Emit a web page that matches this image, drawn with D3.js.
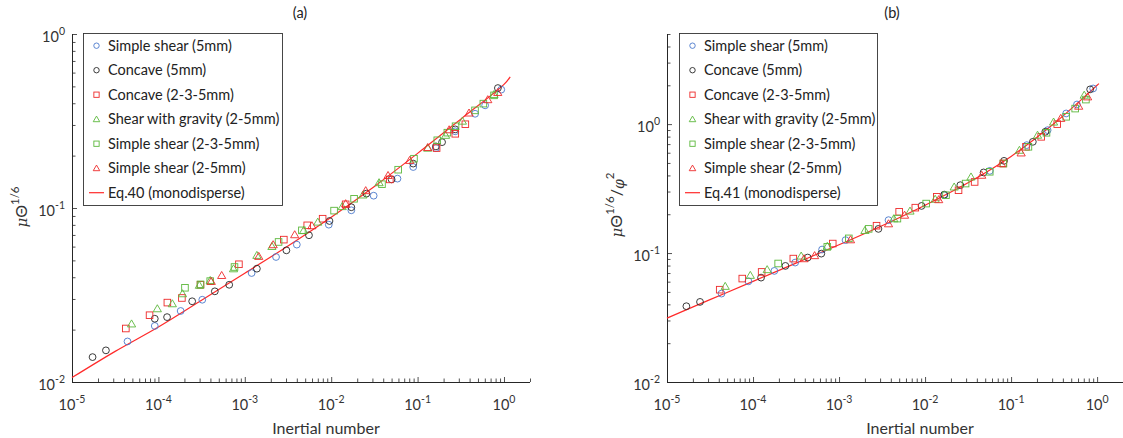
<!DOCTYPE html>
<html><head><meta charset="utf-8">
<script src="https://cdn.jsdelivr.net/npm/d3@7"></script>
<style>
body{margin:0;background:#fff;}
svg{display:block;font-family:Lato,"Noto Sans",sans-serif;}
</style></head><body>
<svg id="c" width="1123" height="438"></svg>
<script>
// ---------- data ----------
const seriesNames = ["Simple shear (5mm)","Concave (5mm)","Concave (2-3-5mm)","Shear with gravity (2-5mm)","Simple shear (2-3-5mm)","Simple shear (2-5mm)"];
const seriesColors = ["#4a78cc","#262626","#ee2a2a","#5cb83c","#5cb83c","#ee2a2a"];
const seriesShapes = ["circle","circle","square","triangle","square","triangle"];
const xTickValues = [1e-5,1e-4,1e-3,1e-2,1e-1,1];
const xTickExps = ["-5","-4","-3","-2","-1","0"];
const yTickValues = [1e-2,1e-1,1];
const yTickExps = ["-2","-1","0"];
const legendLineA = "Eq.40 (monodisperse)";
const legendLineB = "Eq.41 (monodisperse)";

// panel (a)
const aSimple5x = [4.39e-5,9.08e-5,1.81e-4,3.22e-4,1.20e-3,2.30e-3,4.00e-3,9.38e-3,0.0171,0.031,0.0585,0.089,0.163,0.273,0.463,0.605,0.93];
const aSimple5y = [0.0171,0.0210,0.0256,0.0297,0.0423,0.0523,0.0616,0.0802,0.097,0.1177,0.1475,0.172,0.221,0.276,0.348,0.389,0.479];
const aConc5x = [1.73e-5,2.47e-5,9.08e-5,1.26e-4,2.46e-4,4.5e-4,6.6e-4,1.38e-3,3.03e-3,5.53e-3,9.55e-3,0.0171,0.0256,0.050,0.089,0.163,0.192,0.273,0.85];
const aConc5y = [0.0139,0.0152,0.0231,0.0236,0.0291,0.0332,0.0362,0.0448,0.0571,0.0697,0.0842,0.101,0.121,0.146,0.180,0.226,0.239,0.283,0.489];
const aConc235x = [4.2e-5,7.9e-5,1.27e-4,1.87e-4,3.07e-4,8.55e-4,2.83e-3,5.28e-3,7.96e-3,0.0147,0.0477,0.166,0.273,0.357];
const aConc235y = [0.0203,0.0242,0.0286,0.0304,0.0362,0.0475,0.0658,0.0795,0.0868,0.105,0.146,0.221,0.267,0.303];
const aGrav25x = [4.89e-5,9.72e-5,1.45e-4,1.90e-4,2.98e-4,3.98e-4,7.4e-4,1.38e-3,2.06e-3,4.8e-3,7.0e-3,0.0134,0.0233,0.0358,0.131,0.211,0.33,0.767];
const aGrav25y = [0.0216,0.0264,0.0282,0.0322,0.036,0.0384,0.0448,0.0535,0.0602,0.0744,0.0831,0.102,0.119,0.140,0.221,0.262,0.316,0.45];
const aSimple235x = [2.03e-4,3.07e-4,3.98e-4,7.6e-4,2.46e-3,4.58e-3,0.0108,0.0184,0.0387,0.0596,0.0908,0.169,0.221,0.275,0.462,0.577,0.767];
const aSimple235y = [0.0348,0.0364,0.038,0.0458,0.0638,0.0744,0.0966,0.113,0.137,0.166,0.192,0.245,0.271,0.295,0.364,0.398,0.444];
const aSimple25x = [4.09e-4,5.4e-4,1.45e-3,2.13e-3,3.78e-3,5.98e-3,0.0147,0.0251,0.0455,0.081,0.131,0.232,0.394,0.649,0.847];
const aSimple25y = [0.0379,0.041,0.0528,0.0616,0.0703,0.0792,0.106,0.126,0.154,0.188,0.223,0.282,0.352,0.42,0.462];
const aCurveX = [1e-5,3.16e-5,1e-4,3.16e-4,1e-3,3.16e-3,1e-2,3.16e-2,0.1,0.316,1,1.18];
const aCurveY = [0.0106,0.0150,0.0207,0.0295,0.0422,0.0605,0.0885,0.133,0.206,0.324,0.513,0.567];

// panel (b)
const bSimple5x = [4.3e-5,8.85e-5,1.77e-4,3.09e-4,6.35e-4,1.19e-3,3.76e-3,0.0167,0.0565,0.152,0.266,0.437,0.583,0.9];
const bSimple5y = [0.0485,0.0604,0.0727,0.0844,0.1065,0.126,0.18,0.281,0.434,0.687,0.898,1.21,1.42,1.89];
const bConc5x = [1.68e-5,2.42e-5,1.24e-4,2.38e-4,4.32e-4,6.22e-4,2.87e-3,9.1e-3,0.0167,0.0257,0.0479,0.0828,0.179,0.25,0.83];
const bConc5y = [0.0387,0.0418,0.0645,0.0795,0.0923,0.099,0.154,0.232,0.284,0.336,0.422,0.519,0.729,0.872,1.86];
const bConc235x = [4.1e-5,7.5e-5,1.26e-4,2.94e-4,8.45e-4,2.73e-3,5.0e-3,7.7e-3,0.0137,0.0245,0.0377,0.0813,0.149,0.224,0.344];
const bConc235y = [0.052,0.0634,0.0714,0.0906,0.1185,0.163,0.209,0.225,0.273,0.307,0.356,0.495,0.667,0.797,1.0];
const bGrav25x = [4.75e-5,9.3e-5,1.46e-4,3.63e-4,7.3e-4,2.0e-3,4.33e-3,6.68e-3,0.0131,0.0218,0.0342,0.125,0.203,0.312,0.708];
const bGrav25y = [0.0553,0.0673,0.0745,0.095,0.113,0.150,0.185,0.212,0.262,0.326,0.390,0.628,0.822,1.04,1.68];
const bSimple235x = [1.96e-4,7.3e-4,1.3e-3,2.21e-3,4.77e-3,0.0103,0.0175,0.0296,0.0565,0.0813,0.159,0.258,0.437,0.556,0.741];
const bSimple235y = [0.083,0.1117,0.130,0.154,0.185,0.242,0.281,0.346,0.427,0.495,0.667,0.857,1.14,1.32,1.55];
const bSimple25x = [3.92e-4,5.2e-4,1.36e-3,3.76e-3,5.78e-3,0.0144,0.0456,0.0774,0.131,0.378,0.611,0.776];
const bSimple25y = [0.0906,0.0957,0.127,0.169,0.197,0.260,0.402,0.495,0.599,1.11,1.38,1.63];
const bCurveX = [1e-5,3.16e-5,1e-4,3.16e-4,1e-3,3.16e-3,1e-2,3.16e-2,0.1,0.316,1,1.05];
const bCurveY = [0.0313,0.0435,0.0603,0.0836,0.116,0.163,0.235,0.351,0.562,1.01,2.0,2.06];

// ---------- drawing ----------
const svg = d3.select("#c");
const axisColor = "#262626";
const lineRed = "#ff2a2a";

function marker(g, shape, x, y, color, s) {
  if (shape === "circle") {
    g.append("circle").attr("cx", x).attr("cy", y).attr("r", 3.4*s)
      .attr("fill","none").attr("stroke",color).attr("stroke-width",0.9);
  } else if (shape === "square") {
    const h = 3.3*s;
    g.append("rect").attr("x", x-h).attr("y", y-h).attr("width", 2*h).attr("height", 2*h)
      .attr("fill","none").attr("stroke",color).attr("stroke-width",0.9);
  } else {
    const h = 3.9*s;
    g.append("path").attr("d", `M${x},${y-h}L${x+h*1.05},${y+h*0.8}L${x-h*1.05},${y+h*0.8}Z`)
      .attr("fill","none").attr("stroke",color).attr("stroke-width",0.9);
  }
}

function panel(cfg) {
  const x = d3.scaleLog().domain([1e-5, 2]).range([cfg.left, cfg.right]);
  const y = d3.scaleLog().domain(cfg.yDomain).range([cfg.bottom, cfg.top]);
  const g = svg.append("g");

  const xMinor = [];
  for (let e = -5; e <= 0; e++) for (let m = 2; m <= 9; m++) { const v = m*Math.pow(10,e); if (v <= 2) xMinor.push(v); }
  const yMinor = [];
  for (let e = -2; e <= 0; e++) for (let m = 2; m <= 9; m++) { const v = m*Math.pow(10,e); if (v <= cfg.yDomain[1]) yMinor.push(v); }

  const gx = g.append("g").attr("transform", `translate(0,${cfg.bottom})`);
  gx.call(d3.axisBottom(x).tickValues(xMinor).tickSize(-3.5).tickFormat(""));
  const gx2 = g.append("g").attr("transform", `translate(0,${cfg.bottom})`);
  gx2.call(d3.axisBottom(x).tickValues(xTickValues).tickSize(-5).tickFormat(""));
  const gy = g.append("g").attr("transform", `translate(${cfg.left},0)`);
  gy.call(d3.axisLeft(y).tickValues(yMinor).tickSize(-3.5).tickFormat(""));
  const gy2 = g.append("g").attr("transform", `translate(${cfg.left},0)`);
  gy2.call(d3.axisLeft(y).tickValues(yTickValues).tickSize(-5).tickFormat(""));
  g.selectAll(".domain").attr("stroke", axisColor).attr("stroke-width", 1);
  g.selectAll(".tick line").attr("stroke", axisColor).attr("stroke-width", 0.8);
  gx.select(".domain").attr("d", `M${cfg.left},0.5H${cfg.right}`);
  gx2.select(".domain").remove();
  gy.select(".domain").attr("d", `M0.5,${cfg.top}V${cfg.bottom}`);
  gy2.select(".domain").remove();

  xTickValues.forEach((v, i) => {
    const t = g.append("text").attr("x", x(v)).attr("y", cfg.bottom + 28)
      .attr("text-anchor","middle").attr("fill","#333").attr("font-size",14.5);
    t.append("tspan").text("10");
    t.append("tspan").attr("dy",-7).attr("font-size",10.5).text(xTickExps[i]);
  });
  yTickValues.forEach((v, i) => {
    const t = g.append("text").attr("x", cfg.left - 7).attr("y", y(v) + 8)
      .attr("text-anchor","end").attr("fill","#333").attr("font-size",14.5);
    t.append("tspan").text("10");
    t.append("tspan").attr("dy",-7).attr("font-size",10.5).text(yTickExps[i]);
  });

  g.append("text").attr("x", cfg.titleX).attr("y", 18).attr("text-anchor","middle")
    .attr("font-size",14.5).attr("fill","#222").text(cfg.title);
  g.append("text").attr("x", cfg.xlabX).attr("y", 434).attr("text-anchor","middle")
    .attr("font-size",16).attr("fill","#333").text("Inertial number");
  const yl = g.append("text").attr("transform", `translate(${cfg.ylabX},${cfg.ylabY}) rotate(-90)`)
    .attr("text-anchor","middle").attr("font-size",16).attr("fill","#333");
  yl.append("tspan").attr("font-style","italic").attr("font-family","'DejaVu Serif',serif").attr("font-size",15).text("μ");
  yl.append("tspan").text("Θ");
  yl.append("tspan").attr("dy",-8).attr("font-size",11.5).text("1/6");
  if (cfg.phi) {
    yl.append("tspan").attr("dy",8).text("/");
    yl.append("tspan").attr("dy",2).attr("font-style","italic").attr("font-family","'DejaVu Serif',serif").attr("font-size",14).text("φ");
    yl.append("tspan").attr("dy",-10).attr("font-size",11.5).text("2");
  }

  const pts = cfg.curveX.map((v,i)=>[v, cfg.curveY[i]]);
  g.append("path").datum(pts)
    .attr("d", d3.line().x(d=>x(d[0])).y(d=>y(d[1])).curve(d3.curveCatmullRom))
    .attr("fill","none").attr("stroke",lineRed).attr("stroke-width",1.2);

  cfg.series.forEach((s, k) => {
    const gs = g.append("g");
    s[0].forEach((v, i) => marker(gs, seriesShapes[k], x(v), y(s[1][i]), seriesColors[k], 1));
  });

  const L = cfg.legend;
  const lg = g.append("g");
  lg.append("rect").attr("x", L.x+0.5).attr("y", L.y+0.5).attr("width", L.w).attr("height", L.h)
    .attr("fill","#fff").attr("stroke","#333").attr("stroke-width",0.9);
  const names = seriesNames.concat([cfg.lineName]);
  names.forEach((nm, i) => {
    const yy = L.y + 12.7 + i*24.5;
    if (i < 6) marker(lg, seriesShapes[i], L.x + 13.5, yy, seriesColors[i], 0.8);
    else lg.append("line").attr("x1", L.x+6).attr("x2", L.x+21).attr("y1", yy).attr("y2", yy)
      .attr("stroke", lineRed).attr("stroke-width",1.2);
    lg.append("text").attr("x", L.x + 25).attr("y", yy + 5).attr("font-size",14.5)
      .attr("fill","#222").text(nm);
  });
}

panel({
  left:72, right:530, top:34, bottom:382, yDomain:[1e-2,1],
  title:"(a)", titleX:300, xlabX:326, ylabX:27, ylabY:207, phi:false,
  curveX:aCurveX, curveY:aCurveY, lineName:legendLineA,
  series:[[aSimple5x,aSimple5y],[aConc5x,aConc5y],[aConc235x,aConc235y],[aGrav25x,aGrav25y],[aSimple235x,aSimple235y],[aSimple25x,aSimple25y]],
  legend:{x:83,y:33,w:199,h:172}
});
panel({
  left:667, right:1123, top:34, bottom:382, yDomain:[1e-2,5],
  title:"(b)", titleX:892, xlabX:920, ylabX:622, ylabY:205, phi:true,
  curveX:bCurveX, curveY:bCurveY, lineName:legendLineB,
  series:[[bSimple5x,bSimple5y],[bConc5x,bConc5y],[bConc235x,bConc235y],[bGrav25x,bGrav25y],[bSimple235x,bSimple235y],[bSimple25x,bSimple25y]],
  legend:{x:679,y:33,w:198,h:172}
});
</script>
</body></html>
